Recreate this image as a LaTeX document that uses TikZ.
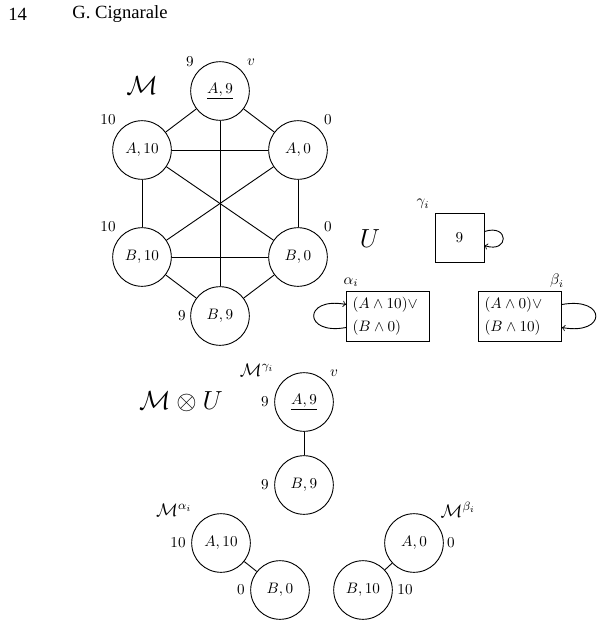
\documentclass[tikz,border=0pt]{standalone}
\usepackage{fontspec}
\newfontfamily\headfont{Liberation Serif}
\begin{document}
\begin{tikzpicture}[x=0.66pt,y=-0.66pt,
  st/.style={circle,draw,line width=0.6pt,minimum size=38.7pt,inner sep=0pt},
  lab/.style={inner sep=0pt},
  head/.style={inner sep=0pt,anchor=west,font=\headfont\fontsize{12.3}{14}\selectfont},
  big/.style={inner sep=0pt,font=\LARGE},
  mid/.style={inner sep=0pt,font=\large},
  ubox/.style={draw,line width=0.6pt,inner sep=4pt,align=left,text width=46.8pt,minimum height=31.7pt,font=\fontsize{10}{15}\selectfont},
  gbox/.style={draw,line width=0.6pt,minimum size=32.3pt,inner sep=0pt},
  con/.style={line width=0.6pt},
  selfloop/.style={->,line width=0.6pt}]
\useasboundingbox (0,0) rectangle (598,625);

% header
\node[head] (pg) at (8,14) {14};
\node[head] (au) at (72,14) {G. Cignarale};

% model M
\node[big] (mM) at (142,86) {$\mathcal{M}$};
\node[st] (a9) at (220,91) {$\underline{A,9}$};
\node[st] (a10) at (142,150) {$A,10$};
\node[st] (a0) at (298,150) {$A,0$};
\node[st] (b10) at (142,257) {$B,10$};
\node[st] (b0) at (298,257) {$B,0$};
\node[st] (b9) at (220,316) {$B,9$};
\node[lab] (l9a) at (190,62) {$9$};
\node[lab] (lv) at (251,62) {$v$};
\node[lab] (l10a) at (108,120) {$10$};
\node[lab] (l0a) at (328,120) {$0$};
\node[lab] (l10b) at (108,227) {$10$};
\node[lab] (l0b) at (328,227) {$0$};
\node[lab] (l9b) at (182,316) {$9$};
\draw[con] (a9) -- (a10);
\draw[con] (a9) -- (a0);
\draw[con] (a9) -- (b9);
\draw[con] (a10) -- (a0);
\draw[con] (a10) -- (b10);
\draw[con] (a10) -- (b0);
\draw[con] (a0) -- (b10);
\draw[con] (a0) -- (b0);
\draw[con] (b10) -- (b0);
\draw[con] (b10) -- (b9);
\draw[con] (b0) -- (b9);

% automaton U
\node[big] (uU) at (370,239) {$U$};
\node[gbox] (g) at (459.5,238) {$9$};
\node[lab] (lg) at (423,204) {$\gamma_i$};
\draw[selfloop] ([yshift=4.3pt]g.east) .. controls +(25,-8) and +(25,8) .. ([yshift=-5pt]g.east);
\node[ubox] (al) at (388,316) {$(A\wedge 10)\vee$\\$(B\wedge 0)$};
\node[lab] (lal) at (351,282) {$\alpha_i$};
\draw[selfloop] ([yshift=-7.6pt]al.west) .. controls +(-43,8) and +(-43,-8) .. ([yshift=7.6pt]al.west);
\node[ubox] (be) at (520,316) {$(A\wedge 0)\vee$\\$(B\wedge 10)$};
\node[lab] (lbe) at (557,281) {$\beta_i$};
\draw[selfloop] ([yshift=7.6pt]be.east) .. controls +(45,-8) and +(45,8) .. ([yshift=-7.6pt]be.east);

% product
\node[big] (prod) at (181,402) {$\mathcal{M}\otimes U$};
\node[mid] (mg) at (257,370) {$\mathcal{M}^{\gamma_i}$};
\node[st] (ga9) at (304,402) {$\underline{A,9}$};
\node[st] (gb9) at (304,485) {$B,9$};
\node[lab] (lgv) at (334,373) {$v$};
\node[lab] (lg9a) at (265,402) {$9$};
\node[lab] (lg9b) at (265,485) {$9$};
\draw[con] (ga9) -- (gb9);

\node[mid] (ma) at (174,510) {$\mathcal{M}^{\alpha_i}$};
\node[st] (aa10) at (221,543) {$A,10$};
\node[st] (ab0) at (280,590) {$B,0$};
\node[lab] (la10) at (178,543) {$10$};
\node[lab] (la0) at (241,590) {$0$};
\draw[con] (aa10) -- (ab0);

\node[mid] (mb) at (458,510) {$\mathcal{M}^{\beta_i}$};
\node[st] (ba0) at (414,543) {$A,0$};
\node[st] (bb10) at (363,590) {$B,10$};
\node[lab] (lb0) at (451,543) {$0$};
\node[lab] (lb10) at (405,590) {$10$};
\draw[con] (ba0) -- (bb10);
\end{tikzpicture}
\end{document}
